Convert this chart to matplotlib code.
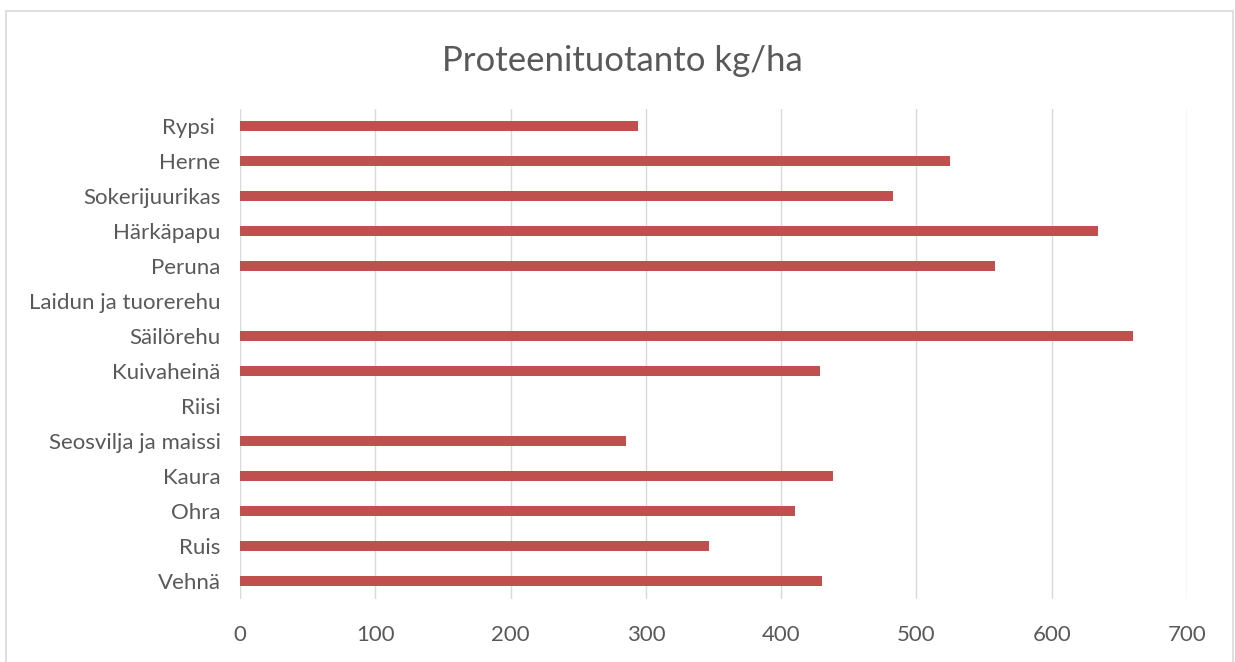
import matplotlib
matplotlib.use("Agg")
import matplotlib.pyplot as plt
from matplotlib.patches import Rectangle

crops = ["Vehnä", "Ruis", "Ohra", "Kaura", "Seosvilja ja maissi", "Riisi",
         "Kuivaheinä", "Säilörehu", "Laidun ja tuorerehu", "Peruna",
         "Härkäpapu", "Sokerijuurikas", "Herne", "Rypsi "]
protein = [430, 347, 410, 438, 285, 0, 429, 660, 0, 558, 634, 483, 525, 294]
xticks = [0, 100, 200, 300, 400, 500, 600, 700]

plt.rcParams['font.family'] = ['Lato', 'DejaVu Sans']
text_color = "#595959"

fig = plt.figure(figsize=(12.35, 6.62), dpi=100)
ax = fig.add_axes([240 / 1235, 1 - 598.5 / 662, (1187 - 240) / 1235, (598.5 - 108.5) / 662])

ax.barh(range(len(crops)), protein, height=0.26, color="#C0504D", zorder=3)
ax.set_xlim(0, 700)
ax.set_ylim(-0.5, len(crops) - 0.5)
ax.set_xticks(xticks)
ax.set_yticks(range(len(crops)))
ax.set_yticklabels(crops)
ax.tick_params(axis="both", length=0, colors=text_color, labelsize=16)
ax.tick_params(axis="x", pad=19)
ax.tick_params(axis="y", pad=14)
ax.grid(axis="x", color="#D9D9D9", linewidth=1, zorder=0)
for s in ax.spines.values():
    s.set_visible(False)

fig.text(622 / 1235, 1 - 61 / 662, "Proteenituotanto kg/ha", ha="center", va="center",
         fontsize=25, color=text_color)

fig.patches.append(Rectangle((6 / 1235, -0.01), (1233 - 6) / 1235, 1 - 11 / 662 + 0.01,
                             transform=fig.transFigure, fill=False,
                             edgecolor="#D9D9D9", linewidth=1.2))

fig.savefig("out.png", dpi=100)
